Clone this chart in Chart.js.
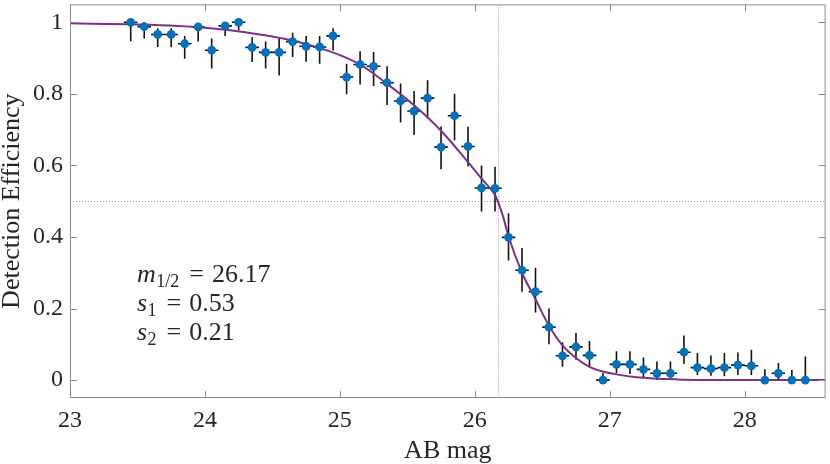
<!DOCTYPE html>
<html>
<head>
<meta charset="utf-8">
<script src="https://cdn.jsdelivr.net/npm/chart.js@4.4.0/dist/chart.umd.min.js"></script>
<style>
  html, body { margin: 0; padding: 0; background: #fff; }
  #wrap { width: 830px; height: 464px; }
</style>
</head>
<body>
<div id="wrap"><canvas id="chart" width="830" height="464"></canvas></div>
<script>
// binned detection efficiency
const binMag = [23.45, 23.55, 23.65, 23.75, 23.85, 23.95, 24.05, 24.15, 24.25, 24.35,
                24.45, 24.55, 24.65, 24.75, 24.85, 24.95, 25.05, 25.15, 25.25, 25.35,
                25.45, 25.55, 25.65, 25.75, 25.85, 25.95, 26.05, 26.15, 26.25, 26.35,
                26.45, 26.55, 26.65, 26.75, 26.85, 26.95, 27.05, 27.15, 27.25, 27.35,
                27.45, 27.55, 27.65, 27.75, 27.85, 27.95, 28.05, 28.15, 28.25, 28.35, 28.45];
const efficiency = [1.0, 0.988, 0.966, 0.966, 0.94, 0.987, 0.922, 0.99, 1.0, 0.93,
                    0.916, 0.916, 0.946, 0.933, 0.931, 0.962, 0.847, 0.882, 0.877, 0.831,
                    0.78, 0.752, 0.788, 0.651, 0.739, 0.653, 0.537, 0.536, 0.399, 0.307,
                    0.247, 0.148, 0.068, 0.093, 0.069, 0.0, 0.044, 0.044, 0.03, 0.019,
                    0.019, 0.078, 0.035, 0.032, 0.035, 0.042, 0.04, 0.0, 0.019, 0.0, 0.0];
const errLow = [0.947, 0.955, 0.931, 0.93, 0.898, 0.946, 0.871, 0.962, 0.978, 0.889,
                0.871, 0.851, 0.903, 0.89, 0.884, 0.921, 0.799, 0.826, 0.822, 0.769,
                0.72, 0.685, 0.732, 0.589, 0.67, 0.598, 0.471, 0.471, 0.334, 0.247,
                0.189, 0.1, 0.037, 0.057, 0.037, 0.0, 0.019, 0.017, 0.005, 0.0,
                0.0, 0.046, 0.014, 0.012, 0.011, 0.014, 0.014, 0.0, 0.0, 0.0, 0.0];
const errHigh = [1.0, 1.0, 0.983, 0.983, 0.962, 0.998, 0.955, 1.0, 1.0, 0.958,
                 0.946, 0.956, 0.971, 0.962, 0.962, 0.983, 0.884, 0.919, 0.917, 0.877,
                 0.829, 0.808, 0.838, 0.709, 0.80, 0.708, 0.60, 0.596, 0.466, 0.369,
                 0.314, 0.2, 0.106, 0.132, 0.109, 0.02, 0.081, 0.081, 0.063, 0.052,
                 0.052, 0.125, 0.076, 0.069, 0.076, 0.077, 0.085, 0.03, 0.048, 0.028, 0.066];
const binHalfWidth = 0.05;

// fitted curve, sampled off the figure
const fitMag = [23.0, 23.5, 24.0, 24.3, 24.7, 25.15, 25.35, 25.55, 25.75, 25.95, 26.05, 26.15,
                26.17, 26.21, 26.25, 26.35, 26.45, 26.55, 26.65, 26.75, 26.85, 26.95, 27.05,
                27.2, 27.5, 28.0, 28.6];
const fitEff = [0.997, 0.994, 0.985, 0.972, 0.944, 0.882, 0.828, 0.768, 0.697, 0.609, 0.563, 0.517,
                0.5, 0.457, 0.402, 0.3, 0.226, 0.152, 0.097, 0.062, 0.037, 0.024, 0.016,
                0.008, 0.002, 0.0, 0.0];

const halfMag = 26.17;
const halfEff = 0.5;
const xTicks = [23, 24, 25, 26, 27, 28];
const yTicks = [0, 0.2, 0.4, 0.6, 0.8, 1];
const fitText = [['m', '1/2', '26.17'], ['s', '1', '0.53'], ['s', '2', '0.21']];

const serif = '"Liberation Serif", "Times New Roman", Times, "DejaVu Serif", "Noto Serif", serif';
const textColor = '#262626';
const boxColor = '#8c8c8c';

const figurePlugin = {
    id: 'figure',
    beforeDatasetsDraw(chart) {
        const {ctx, chartArea: a, scales: {x, y}} = chart;
        ctx.save();
        ctx.beginPath();
        ctx.rect(a.left, a.top, a.right - a.left, a.bottom - a.top);
        ctx.clip();

        // dotted reference lines at the 50% point
        ctx.strokeStyle = '#9a9a9a';
        ctx.lineWidth = 1;
        ctx.setLineDash([1, 2]);
        const hx = Math.round(x.getPixelForValue(halfMag)) + 0.5;
        const hy = Math.round(y.getPixelForValue(halfEff)) + 0.5;
        ctx.beginPath();
        ctx.moveTo(hx, a.top);
        ctx.lineTo(hx, a.bottom);
        ctx.moveTo(a.left, hy);
        ctx.lineTo(a.right, hy);
        ctx.stroke();
        ctx.setLineDash([]);

        // error bars
        ctx.strokeStyle = '#111';
        ctx.lineWidth = 1.6;
        ctx.beginPath();
        binMag.forEach((m, i) => {
            const px = x.getPixelForValue(m);
            const py = y.getPixelForValue(efficiency[i]);
            ctx.moveTo(px, y.getPixelForValue(errLow[i]));
            ctx.lineTo(px, y.getPixelForValue(errHigh[i]));
            ctx.moveTo(x.getPixelForValue(m - binHalfWidth), py);
            ctx.lineTo(x.getPixelForValue(m + binHalfWidth), py);
        });
        ctx.stroke();
        ctx.restore();
    },
    afterDraw(chart) {
        const {ctx, chartArea: a, scales: {x, y}} = chart;
        ctx.save();

        // box with inward ticks
        ctx.strokeStyle = boxColor;
        ctx.lineWidth = 1;
        ctx.strokeRect(a.left + 0.5, a.top + 0.5, a.right - a.left - 1, a.bottom - a.top - 1);
        const tl = 7;
        ctx.beginPath();
        xTicks.forEach(v => {
            const px = Math.round(x.getPixelForValue(v)) + 0.5;
            ctx.moveTo(px, a.bottom);
            ctx.lineTo(px, a.bottom - tl);
            ctx.moveTo(px, a.top);
            ctx.lineTo(px, a.top + tl);
        });
        yTicks.forEach(v => {
            const py = Math.round(y.getPixelForValue(v)) + 0.5;
            ctx.moveTo(a.left, py);
            ctx.lineTo(a.left + tl, py);
            ctx.moveTo(a.right, py);
            ctx.lineTo(a.right - tl, py);
        });
        ctx.stroke();

        // fit parameters
        ctx.fillStyle = textColor;
        ctx.textBaseline = 'alphabetic';
        ctx.textAlign = 'left';
        let base = 282;
        fitText.forEach(([sym, sub, val]) => {
            let tx = 137;
            ctx.font = `italic 26px ${serif}`;
            ctx.fillText(sym, tx, base);
            tx += ctx.measureText(sym).width + 0.5;
            ctx.font = `18px ${serif}`;
            ctx.fillText(sub, tx, base + 5);
            tx += ctx.measureText(sub).width + 10;
            ctx.font = `26px ${serif}`;
            ctx.fillText('=', tx, base);
            tx += ctx.measureText('=').width + 8;
            ctx.fillText(val, tx, base);
            base += 29;
        });
        ctx.restore();
    }
};

const ctx = document.getElementById('chart').getContext('2d');

const myChart = new Chart(ctx, {
    type: 'scatter',
    data: {
        datasets: [{
            label: 'fit',
            data: fitMag.map((m, i) => ({x: m, y: fitEff[i]})),
            showLine: true,
            borderColor: '#7E2F8E',
            borderWidth: 2,
            pointRadius: 0,
            cubicInterpolationMode: 'monotone',
            order: 2,
        }, {
            label: 'efficiency',
            data: binMag.map((m, i) => ({x: m, y: efficiency[i]})),
            backgroundColor: '#0072BD',
            borderWidth: 0,
            pointRadius: 4.4,
            order: 1,
        }],
    },
    options: {
        responsive: false,
        animation: false,
        devicePixelRatio: 1,
        layout: {padding: {top: 1, right: 2, left: 0, bottom: 0}},
        scales: {
            x: {
                type: 'linear',
                min: 23,
                max: 28.6,
                afterBuildTicks: s => { s.ticks = xTicks.map(v => ({value: v})); },
                afterFit: s => { s.height = 66; s.paddingLeft = 0; s.paddingRight = 0; },
                grid: {display: false, drawTicks: false},
                border: {display: false},
                ticks: {
                    color: textColor,
                    font: {family: serif, size: 24},
                    padding: 8,
                    maxRotation: 0,
                    callback: v => String(v),
                },
                title: {
                    display: true,
                    text: 'AB mag',
                    color: textColor,
                    font: {family: serif, size: 26, lineHeight: 1},
                    padding: {top: 0, bottom: 0},
                },
            },
            y: {
                min: -0.05,
                max: 1.05,
                afterBuildTicks: s => { s.ticks = yTicks.map(v => ({value: v})); },
                afterFit: s => { s.width = 70; s.paddingTop = 0; s.paddingBottom = 0; },
                grid: {display: false, drawTicks: false},
                border: {display: false},
                ticks: {
                    color: textColor,
                    font: {family: serif, size: 24},
                    padding: 7,
                    callback: v => String(Math.round(v * 10) / 10),
                },
                title: {
                    display: true,
                    text: 'Detection Efficiency',
                    color: textColor,
                    font: {family: serif, size: 26, lineHeight: 0.9},
                    padding: {top: 0, bottom: 0},
                },
            },
        },
        plugins: {
            legend: {display: false},
            title: {display: false},
            tooltip: {enabled: false},
        },
    },
    plugins: [figurePlugin],
});
</script>
</body>
</html>
